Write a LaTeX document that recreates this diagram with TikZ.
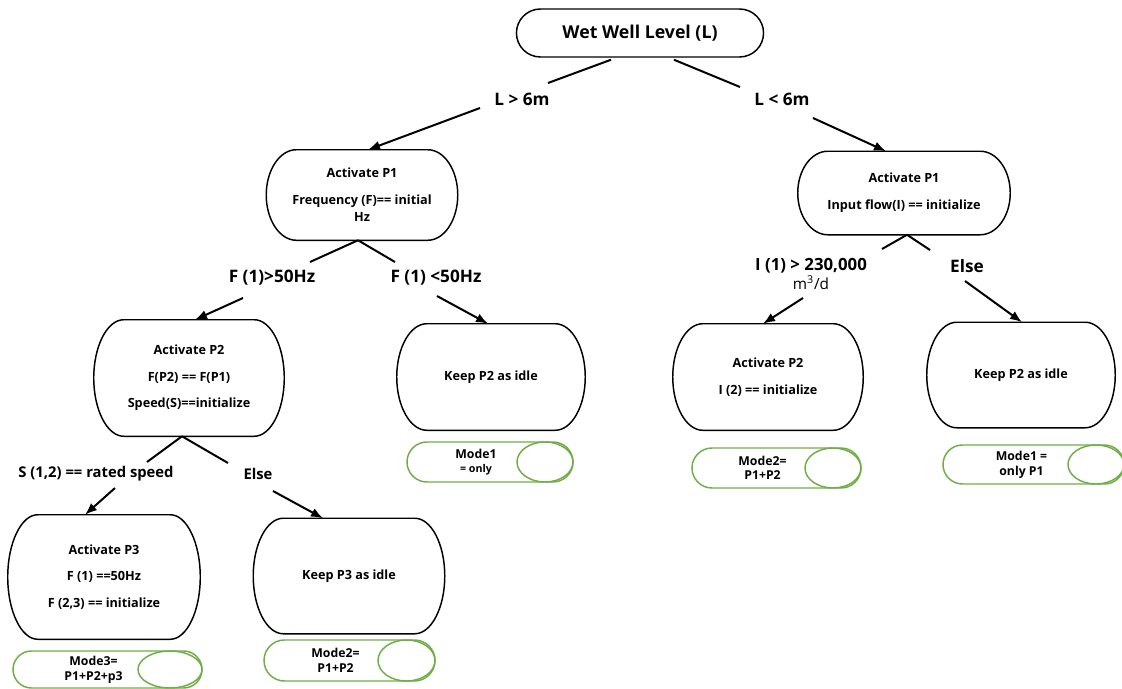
\documentclass[tikz,border=0pt]{standalone}
\usepackage{fontspec}
\setmainfont{Open Sans}
\usetikzlibrary{calc,shapes.misc,shapes.geometric,arrows.meta}
\definecolor{tagg}{RGB}{112,173,71}
\newcommand{\rootfont}{\fontsize{13.3}{16}\selectfont\bfseries}
\newcommand{\boxfont}{\fontsize{9.5}{12.75}\selectfont\bfseries}
\newcommand{\bigfont}{\fontsize{12.9}{15}\selectfont\bfseries}
\newcommand{\midfont}{\fontsize{11.1}{14}\selectfont\bfseries}
\newcommand{\tagfont}{\fontsize{9.2}{11}\selectfont\bfseries}
\newcommand{\barrelout}[2][30]{%
  \draw[boxline] ($(#2.north west)+(#1,0)$) -- ($(#2.north east)+(-#1,0)$)
    .. controls ($(#2.north east)+(-0.45*#1,0)$) and ($(#2.east)!0.55!(#2.north east)$) .. (#2.east)
    .. controls ($(#2.east)!0.55!(#2.south east)$) and ($(#2.south east)+(-0.45*#1,0)$) .. ($(#2.south east)+(-#1,0)$)
    -- ($(#2.south west)+(#1,0)$)
    .. controls ($(#2.south west)+(0.45*#1,0)$) and ($(#2.west)!0.55!(#2.south west)$) .. (#2.west)
    .. controls ($(#2.west)!0.55!(#2.north west)$) and ($(#2.north west)+(0.45*#1,0)$) .. ($(#2.north west)+(#1,0)$) -- cycle;}
\tikzset{
  boxline/.style={line width=1.1pt, line join=round},
  bx/.style 2 args={minimum width=#1*0.75pt, minimum height=#2*0.75pt, inner sep=0pt, align=center, font=\boxfont},
  tagbox/.style 2 args={rounded rectangle, draw=tagg, line width=1.1pt, inner sep=0pt, minimum width=#1*0.75pt, minimum height=#2*0.75pt},
  tagend/.style 2 args={ellipse, draw=tagg, line width=1.1pt, inner sep=0pt, minimum width=#1*0.75pt, minimum height=#2*0.75pt, anchor=east},
  tagtxt/.style={align=center, font=\tagfont, inner sep=0pt},
  branch/.style={line width=1.5pt},
  arr/.style={line width=1.5pt, -{Latex[length=9pt,width=7pt]}},
  lab/.style={font=\bigfont, inner sep=0pt, align=center},
  mlab/.style={font=\midfont, inner sep=0pt, align=center}
}
\begin{document}
\begin{tikzpicture}[x=0.75pt,y=-0.75pt]
\useasboundingbox (0,0) rectangle (1122,689);
% root
\node[rounded rectangle, draw, line width=1.1pt, minimum width=256*0.75pt, minimum height=48*0.75pt, font=\rootfont] (root) at (640,33) {Wet Well Level (L)};
% level 1 boxes
\node[bx={191}{90}] (p1l) at (362,195) {Activate P1\\[7.5pt]Frequency (F)== initial\\Hz};
\barrelout{p1l}
\node[bx={212}{83}] (p1r) at (904,193) {Activate P1\\[7.5pt]Input flow(I) == initialize};
\barrelout{p1r}
% level 2 boxes
\node[bx={190}{116}] (p2l) at (189,378) {Activate P2\\[7pt]F(P2) == F(P1)\\[7pt]Speed(S)==initialize};
\barrelout{p2l}
\node[bx={188}{106}] (kp2) at (491,377) {Keep P2 as idle};
\barrelout{kp2}
\node[bx={190}{106}] (p2r) at (768,377) {Activate P2\\[7.5pt]I (2) == initialize};
\barrelout{p2r}
\node[bx={188}{105}] (kp2r) at (1021,375) {Keep P2 as idle};
\barrelout{kp2r}
% level 3 boxes
\node[bx={192}{124}] (p3) at (104,577) {Activate P3\\[7pt]F (1) ==50Hz\\[7pt]F (2,3) == initialize};
\barrelout{p3}
\node[bx={191}{115}] (kp3) at (349,576) {Keep P3 as idle};
\barrelout{kp3}
% mode tags
\node[tagbox={166}{40}] (m1a) at (490,462) {};
\node[tagend={56}{40}] (m1ae) at (m1a.east) {};
\node[tagtxt] (m1at) at ($(m1a.center)+(-14,0)$) {Mode1\\{\fontsize{8}{11}\selectfont = only}};
\node[tagbox={169}{40}] (m2a) at (776.5,468) {};
\node[tagend={56}{40}] (m2ae) at (m2a.east) {};
\node[tagtxt] (m2at) at ($(m2a.center)+(-14,0)$) {Mode2=\\P1+P2};
\node[tagbox={181}{39}] (m1b) at (1033.5,464.5) {};
\node[tagend={56}{39}] (m1be) at (m1b.east) {};
\node[tagtxt] (m1bt) at ($(m1b.center)+(-12,0)$) {Mode1 =\\only P1};
\node[tagbox={189}{37}] (m3) at (107.5,669.5) {};
\node[tagend={64}{37}] (m3e) at (m3.east) {};
\node[tagtxt] (m3t) at ($(m3.center)+(-14,0)$) {Mode3=\\P1+P2+p3};
\node[tagbox={171}{41}] (m2b) at (349.5,660.5) {};
\node[tagend={57}{41}] (m2be) at (m2b.east) {};
\node[tagtxt] (m2bt) at ($(m2b.center)+(-14,0)$) {Mode2=\\P1+P2};
% branch labels
\node[lab] (l1) at (522,99) {L > 6m};
\node[lab] (l2) at (782,99) {L < 6m};
\node[lab] (l3) at (272,278) {F (1)>50Hz};
\node[lab] (l4) at (436,278) {F (1) <50Hz};
\node[mlab, font=\fontsize{12.6}{14.5}\selectfont\bfseries] (l5) at (811,274) {I (1) > 230,000\\{\mdseries\fontsize{11.5}{14.5}\selectfont m\textsuperscript{3}/d}};
\node[lab] (l6) at (967,266) {Else};
\node[mlab] (l7) at (96,474) {S (1,2) == rated speed};
\node[mlab] (l8) at (258,474) {Else};
% free ends
\coordinate (c1) at (548,83);
\coordinate (c2) at (740,87);
\coordinate (a1) at (480,108);
\coordinate (a2) at (813,118);
\coordinate (c3) at (310,262);
\coordinate (c4) at (395,262);
\coordinate (a3) at (243,298);
\coordinate (a4) at (437,296);
\coordinate (c5) at (882,249);
\coordinate (c6) at (930,250);
\coordinate (a5) at (803,298);
\coordinate (a6) at (965,281);
\coordinate (c7) at (147,462);
\coordinate (c8) at (228,463);
\coordinate (a7) at (115,488);
\coordinate (a8) at (273,491);
% connectors
\draw[branch] ($(root.south)+(-29,2)$) -- (c1);
\draw[branch] ($(root.south)+(34,2)$) -- (c2);
\draw[arr] (a1) -- ($(p1l.north)+(6,0)$);
\draw[arr] (a2) -- ($(p1r.north)+(-18,0)$);
\draw[branch] ($(p1l.south)+(-4,0)$) -- (c3);
\draw[branch] ($(p1l.south)+(-4,0)$) -- (c4);
\draw[arr] (a3) -- ($(p2l.north)+(6,0)$);
\draw[arr] (a4) -- ($(kp2.north)+(-3,0)$);
\draw[branch] ($(p1r.south)+(3,0)$) -- (c5);
\draw[branch] ($(p1r.south)+(3,0)$) -- (c6);
\draw[arr] (a5) -- ($(p2r.north)+(-5,0)$);
\draw[arr] (a6) -- ($(kp2r.north)+(1,0)$);
\draw[branch] ($(p2l.south)+(-7,0)$) -- (c7);
\draw[branch] ($(p2l.south)+(-7,0)$) -- (c8);
\draw[arr] (a7) -- ($(p3.north)+(-19,0)$);
\draw[arr] (a8) -- ($(kp3.north)+(-26,0)$);
\end{tikzpicture}
\end{document}
